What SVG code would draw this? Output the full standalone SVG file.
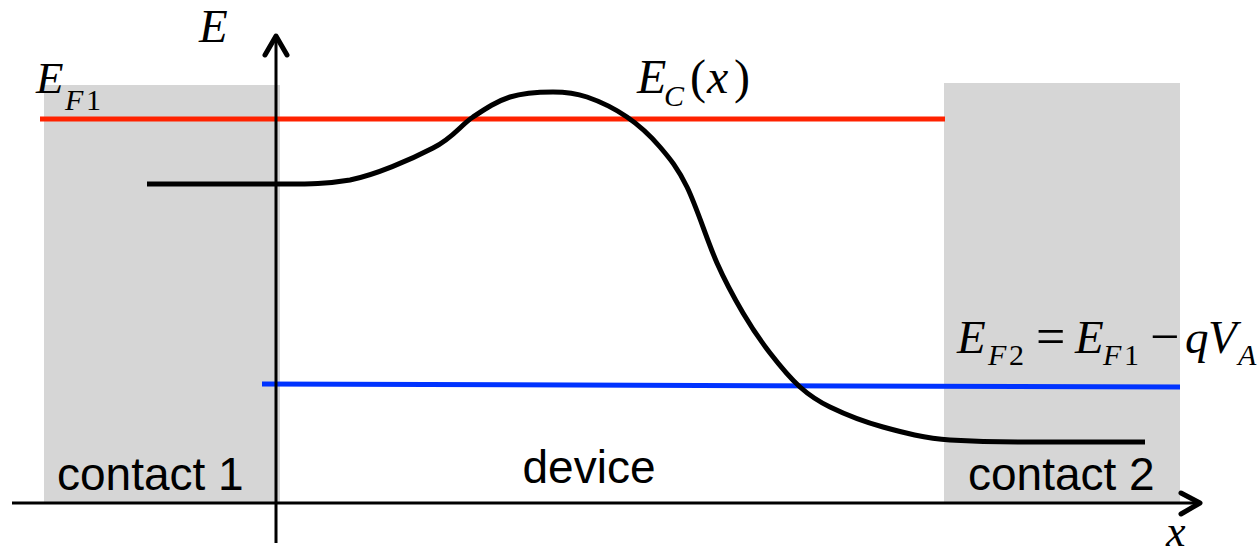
<svg xmlns="http://www.w3.org/2000/svg" width="1259" height="555" viewBox="0 0 1259 555">
<style>
.contact{fill:#d6d6d6}
.math{font-family:"Liberation Serif","Times New Roman",serif;font-style:italic;fill:#000}
.up{font-style:normal}
.sub{font-size:30px}
.lbl{font-family:"Liberation Sans",Arial,sans-serif;font-size:46px;fill:#000}
.axis{stroke:#000;stroke-width:3;fill:none}
.head{stroke:#000;stroke-width:5;fill:none;stroke-linecap:round;stroke-linejoin:round}
</style>
<rect width="1259" height="555" fill="#fff"/>
<g id="contact1">
<rect class="contact" x="44" y="85" width="236" height="418"/>
<text class="lbl" x="57" y="490">contact 1</text>
</g>
<g id="contact2">
<rect class="contact" x="944" y="83" width="236" height="420"/>
<text class="lbl" x="968" y="490">contact 2</text>
</g>
<g id="device">
<text class="lbl" x="589" y="483" text-anchor="middle">device</text>
</g>
<g id="connectors">
<line id="EF1line" x1="40" y1="119" x2="945" y2="119" stroke="#ff2200" stroke-width="5"/>
<line id="EF2line" x1="262" y1="384" x2="1180" y2="387" stroke="#0033ff" stroke-width="5"/>
<path id="Ec" fill="none" stroke="#000" stroke-width="5" stroke-linejoin="round" d="M147,184 L285,184 C310,184 326,184 350,180 C375,175 410,160 433,148 C453.5,137.7 460.2,125.5 473,117 C485.8,108.5 496.7,101.2 510,97 C523.3,92.8 540.2,92 553,92 C565.8,92 574.7,92.8 587,97 C599.3,101.2 614.8,108.7 627,117 C639.2,125.3 650,135.3 660,147 C670,158.7 677.5,167.7 687,187 C696.5,206.3 707.7,242 717,263 C726.3,284 734.2,298 743,313 C751.8,328 760.5,340.7 770,353 C779.5,365.3 790,378 800,387 C810,396 816.2,400.3 830,407 C843.8,413.7 863,421.5 883,427 C903,432.5 925,438.5 950,440 C975,441.5 995,442 1020,442 L1145,442"/>
<line class="axis" x1="276" y1="543" x2="276" y2="36"/>
<polyline class="head" points="265,55 276,36 287,55"/>
<line class="axis" x1="12" y1="503" x2="1200" y2="503"/>
<polyline class="head" points="1181,493 1200,503 1181,514"/>
</g>
<g id="labels">
<text class="math" x="199" y="42" font-size="47">E</text>
<text class="math" font-size="45"><tspan x="36" y="93">E</tspan><tspan class="sub" x="65" y="110">F</tspan><tspan class="sub up" x="86" y="110">1</tspan></text>
<text class="math" font-size="48"><tspan x="637" y="93">E</tspan><tspan class="sub" x="664" y="106">C</tspan><tspan class="up" x="690" y="93">(</tspan><tspan x="707" y="93">x</tspan><tspan class="up" x="734" y="93">)</tspan></text>
<text class="math" font-size="47"><tspan x="957" y="353">E</tspan><tspan class="sub" x="988" y="365">F</tspan><tspan class="sub up" x="1009" y="365">2</tspan><tspan class="up" font-size="52" x="1036" y="354">=</tspan><tspan x="1075" y="353">E</tspan><tspan class="sub" x="1103" y="365">F</tspan><tspan class="sub up" x="1124" y="365">1</tspan><tspan class="up" font-size="52" x="1150" y="354">−</tspan><tspan x="1185" y="353">q</tspan><tspan x="1208" y="353">V</tspan><tspan class="sub" x="1238" y="365">A</tspan></text>
<text class="math" x="1166" y="546" font-size="44">x</text>
</g>
</svg>
